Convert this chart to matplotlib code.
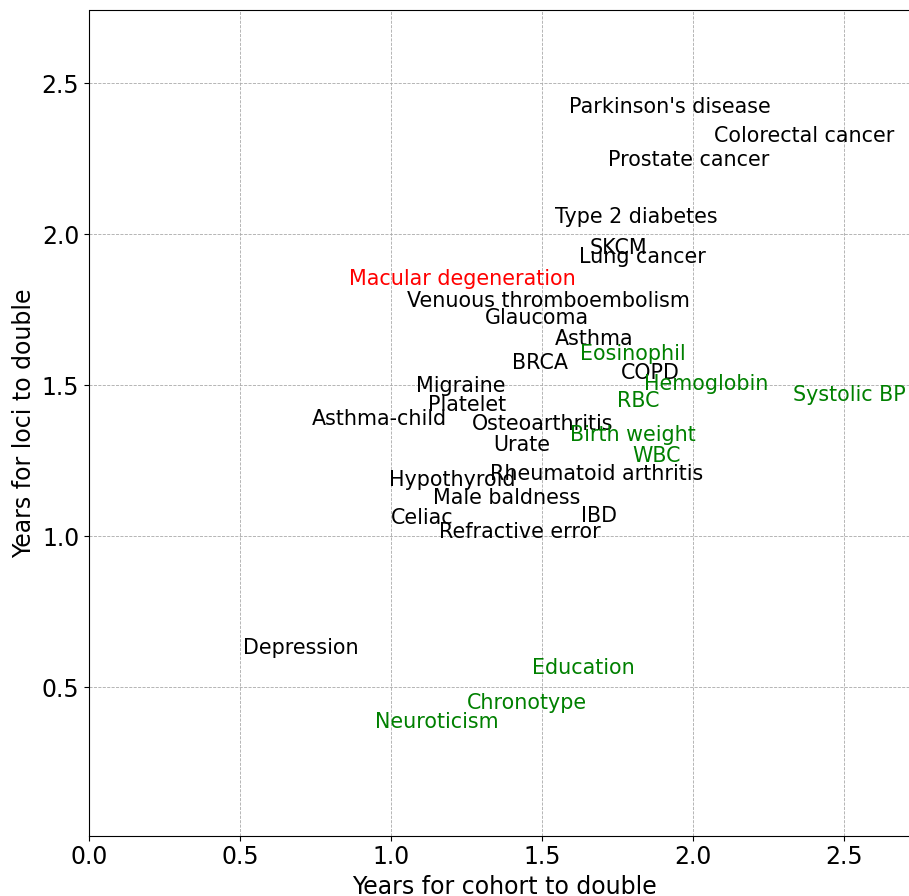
import matplotlib
matplotlib.use("Agg")
import matplotlib.pyplot as plt

# trait labels, placed at (years for cohort to double, years for loci to double)
traits = [
	"Parkinson's disease", "Colorectal cancer", "Prostate cancer", "Type 2 diabetes",
	"SKCM", "Lung cancer", "Macular degeneration", "Venuous thromboembolism",
	"Glaucoma", "Asthma", "Eosinophil", "BRCA", "COPD", "Hemoglobin", "Systolic BP",
	"Migraine", "RBC", "Platelet", "Asthma-child", "Osteoarthritis", "Birth weight",
	"Urate", "WBC", "Rheumatoid arthritis", "Hypothyroid", "Male baldness", "Celiac",
	"IBD", "Refractive error", "Depression", "Education", "Chronotype", "Neuroticism",
]
cohort_years = [
	1.590, 2.070, 1.719, 1.543,
	1.659, 1.623, 0.862, 1.052,
	1.312, 1.543, 1.627, 1.400, 1.762, 1.837, 2.331,
	1.082, 1.749, 1.124, 0.738, 1.267, 1.592,
	1.337, 1.799, 1.329, 0.995, 1.140, 1.000,
	1.630, 1.160, 0.510, 1.467, 1.251, 0.948,
]
loci_years = [
	2.401, 2.305, 2.227, 2.037,
	1.935, 1.906, 1.833, 1.759,
	1.704, 1.632, 1.582, 1.555, 1.521, 1.483, 1.449,
	1.479, 1.428, 1.416, 1.370, 1.353, 1.317,
	1.284, 1.245, 1.185, 1.165, 1.107, 1.042,
	1.046, 0.994, 0.609, 0.545, 0.429, 0.365,
]
green = {"Eosinophil", "Hemoglobin", "Systolic BP", "RBC", "Birth weight", "WBC",
	"Education", "Chronotype", "Neuroticism"}
red = {"Macular degeneration"}

fig = plt.figure(figsize=(9.09, 8.96), dpi=100)
# the reference is cropped on the right and bottom
ax = fig.add_axes([89 / 909, (896 - 835.5) / 896, 830.5 / 909, 825 / 896])

for name, x, y in zip(traits, cohort_years, loci_years):
	if name in green:
		c = "green"
	elif name in red:
		c = "red"
	else:
		c = "black"
	ax.text(x, y, name, fontsize=14.9, color=c)

ax.set_xlim(0, 2.75)
ax.set_ylim(0.01, 2.74)
ax.grid(True, linestyle="--", linewidth=0.6, color="#aaaaaa")
ax.tick_params(labelsize=17)
ax.set_xlabel("Years for cohort to double", fontsize=17)
ax.set_ylabel("Years for loci to double", fontsize=17)

fig.savefig("out.png", dpi=100)
